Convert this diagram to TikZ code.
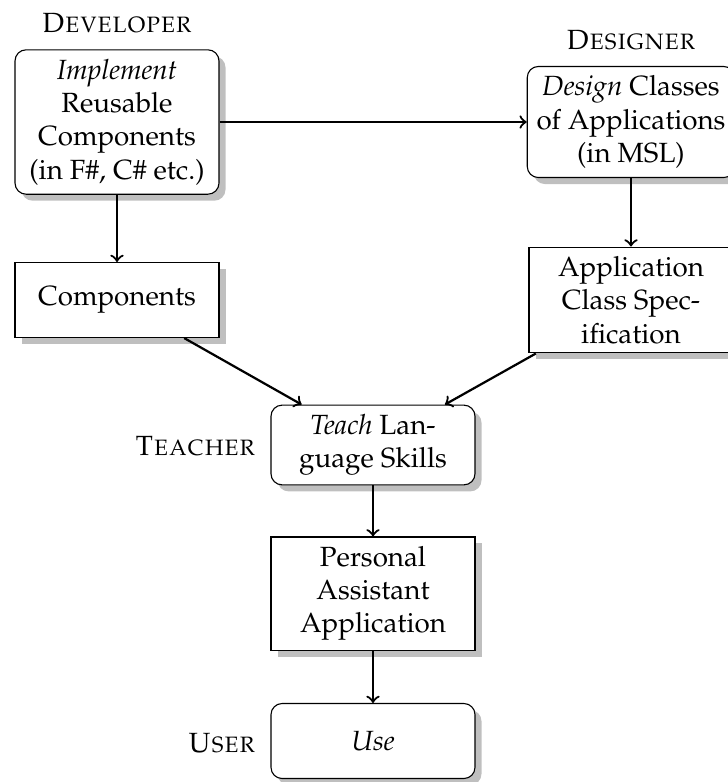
\documentclass[tikz,border=0pt]{standalone}
\usepackage[T1]{fontenc}
\usepackage{mathpazo}
\usetikzlibrary{shadows}
\begin{document}
\begin{tikzpicture}[x=0.36pt,y=-0.36pt,
  box/.style={draw, line width=0.4pt, fill=white, drop shadow, align=center,
    minimum width=73.44pt, minimum height=27pt, inner sep=3.33pt},
  rbox/.style={box, rounded corners=4pt},
  role/.style={font=\scshape, inner sep=0pt},
  flow/.style={->, thick}]
\useasboundingbox (0,0) rectangle (728,782);
% boxes
\node[rbox] (impl) at (117,122) {\emph{Implement}\\Reusable\\Components\\(in F\#, C\# etc.)};
\node[rbox] (des) at (631,122) {\emph{Design} Classes\\of Applications\\(in MSL)};
\node[box] (comp) at (117,300) {Components};
\node[box] (spec) at (631,300) {Application\\Class Spec-\\ification};
\node[rbox] (teach) at (373,445) {\emph{Teach} Lan-\\guage Skills};
\node[box] (pa) at (373,593.5) {Personal\\Assistant\\Application};
\node[rbox] (use) at (373,741) {\emph{Use}};
% role labels
\node[role, anchor=base] (dev) at (117,32) {Developer};
\node[role, anchor=base] (dsg) at (631,49) {Designer};
\node[role, anchor=base east] (tch) at (256,455) {Teacher};
\node[role, anchor=base east] (usr) at (256,752) {User};
% connectors
\draw[flow] (impl) -- (des);
\draw[flow] (impl) -- (comp);
\draw[flow] (des) -- (spec);
\draw[flow] (comp) -- (teach);
\draw[flow] (spec) -- (teach);
\draw[flow] (teach) -- (pa);
\draw[flow] (pa) -- (use);
\end{tikzpicture}
\end{document}
